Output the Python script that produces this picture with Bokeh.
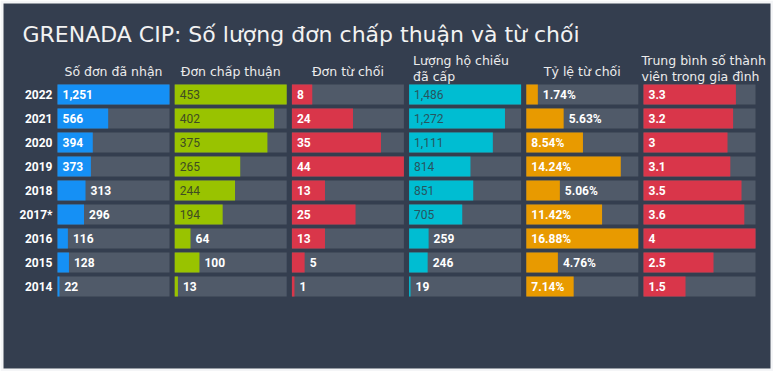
from bokeh.plotting import figure
from bokeh.models import Range1d, ColumnDataSource
from bokeh.core.properties import value
from bokeh.embed import file_html
from bokeh.resources import INLINE

# ---- data ----
years = ["2022", "2021", "2020", "2019", "2018", "2017*", "2016", "2015", "2014"]
received = [1251, 566, 394, 373, 313, 296, 116, 128, 22]
approved = [453, 402, 375, 265, 244, 194, 64, 100, 13]
rejected = [8, 24, 35, 44, 13, 25, 13, 5, 1]
passports = [1486, 1272, 1111, 814, 851, 705, 259, 246, 19]
reject_rate = [1.74, 5.63, 8.54, 14.24, 5.06, 11.42, 16.88, 4.76, 7.14]
family_size = [3.3, 3.2, 3.0, 3.1, 3.5, 3.6, 4.0, 2.5, 1.5]

title_text = "GRENADA CIP: Số lượng đơn chấp thuận và từ chối"
headers = [
    ["Số đơn đã nhận"],
    ["Đơn chấp thuận"],
    ["Đơn từ chối"],
    ["Lượng hộ chiếu", " đã cấp"],
    ["Tỷ lệ từ chối"],
    ["Trung bình số thành", "viên trong gia đình"],
]

def fmt_int(v):
    return f"{v:,}"

def fmt_pct(v):
    return f"{v:.2f}%"

def fmt_g(v):
    return f"{v:g}"

panels = [
    (received, fmt_int, "#1590f5", "white"),
    (approved, fmt_int, "#99c300", "#3f4d22"),
    (rejected, fmt_int, "#d9364a", "white"),
    (passports, fmt_int, "#00bdd2", "#275560"),
    (reject_rate, fmt_pct, "#e89a00", "white"),
    (family_size, fmt_g, "#d9364a", "white"),
]

# ---- layout constants (page pixels) ----
W, H = 773, 371
B = 3                      # light outer border
FX0, FX1 = B, W - B        # frame x extent
FY0, FY1 = B, H - B        # frame y extent
BG = "#343e4f"
TRACK = "#505a69"
PANEL_W = 112
PANEL_STEP = 117.2
PANEL_X0 = 57
ROW_PX = 24
ROW0_PX = 94
BAR_H = 20 / ROW_PX

rows = list(range(len(years)))

p = figure(width=W, height=H, output_backend="svg", toolbar_location=None,
           x_range=Range1d(FX0, FX1),
           y_range=Range1d((FY1 - ROW0_PX) / ROW_PX, (FY0 - ROW0_PX) / ROW_PX),
           min_border=B, min_border_left=B, min_border_right=B,
           min_border_top=B, min_border_bottom=B)
p.extra_y_ranges = {"px": Range1d(FY1, FY0)}
p.axis.visible = False
p.grid.visible = False
p.outline_line_color = None
p.background_fill_color = BG
p.border_fill_color = "#f4f5f7"

font_head = value("DejaVu Sans")
font_num = value("Roboto")

# title
p.text(x=[22], y=[34], text=[title_text], y_range_name="px",
       text_font=font_head, text_font_size="22px", text_color="#f2f2f2",
       text_baseline="alphabetic", text_align="left")

# year labels
p.text(x=[52] * len(years), y=rows, text=years,
       text_font=font_num, text_font_size="12px", text_font_style="bold",
       text_color="white", text_align="right", text_baseline="middle")

for i, (vals, fmt, color, inside_color) in enumerate(panels):
    left_px = PANEL_X0 + PANEL_STEP * i
    m = max(vals)
    name = f"p{i}"
    p.extra_x_ranges[name] = Range1d(-m * (left_px - FX0) / PANEL_W,
                                     m * (FX1 - left_px) / PANEL_W)

    p.hbar(y=rows, left=0, right=[m] * len(vals), height=BAR_H,
           fill_color=TRACK, line_color=None, x_range_name=name)
    p.hbar(y=rows, left=0, right=vals, height=BAR_H,
           fill_color=color, line_color=None, x_range_name=name)

    labels = [fmt(v) for v in vals]
    ins = {"x": [], "y": [], "t": []}
    out = {"x": [], "y": [], "t": []}
    for r, v, t in zip(rows, vals, labels):
        bar_px = v / m * PANEL_W
        if bar_px >= 7 * len(t) + 8:
            ins["x"].append(0); ins["y"].append(r); ins["t"].append(t)
        else:
            out["x"].append(v); out["y"].append(r); out["t"].append(t)
    p.text(x="x", y="y", text="t", source=ColumnDataSource(ins), x_range_name=name,
           x_offset=5, text_font=font_num, text_font_size="12px",
           text_font_style="bold" if inside_color == "white" else "normal",
           text_color=inside_color, text_baseline="middle", text_align="left")
    p.text(x="x", y="y", text="t", source=ColumnDataSource(out), x_range_name=name,
           x_offset=5, text_font=font_num, text_font_size="12px",
           text_font_style="bold", text_color="white",
           text_baseline="middle", text_align="left")

    # header
    hdr = headers[i]
    if len(hdr) == 1:
        p.text(x=[left_px + PANEL_W / 2], y=[71], text=hdr, y_range_name="px",
               text_font=font_head, text_font_size="12.5px", text_color="#ececec",
               text_align="center", text_baseline="alphabetic")
    else:
        hx = left_px + 4 if i == 3 else left_px - 2
        for k, line in enumerate(hdr):
            p.text(x=[hx], y=[60 + 16 * k], text=[line], y_range_name="px",
                   text_font=font_head, text_font_size="12.5px", text_color="#ececec",
                   text_align="left", text_baseline="alphabetic")

open("out.html", "w").write(file_html(p, INLINE))
